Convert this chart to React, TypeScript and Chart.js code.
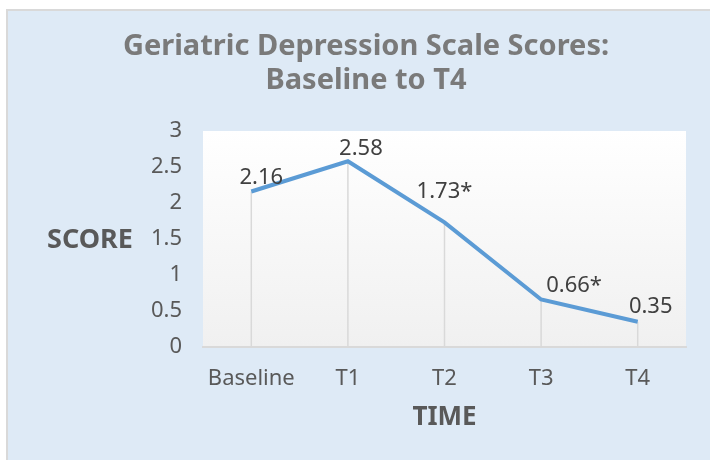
import React, { useEffect, useRef } from "react";
import { Chart, registerables } from "chart.js";

Chart.register(...registerables);

const categories = ["Baseline", "T1", "T2", "T3", "T4"];
const scores = [2.16, 2.58, 1.73, 0.66, 0.35];
const pointLabels = ["2.16", "2.58", "1.73*", "0.66*", "0.35"];
const yTicks = [0, 0.5, 1, 1.5, 2, 2.5, 3];
const titleLines = ["Geriatric Depression Scale Scores:", "Baseline to T4"];
const yTitle = "SCORE";
const xTitle = "TIME";

const FONT = "'Noto Sans', 'DejaVu Sans', sans-serif";
const LINE = "#5b9bd5";
const TEXT = "#595959";
const BG = "#deeaf6";

// label offsets relative to each point (style only)
const labelDx = [10, 13, 0, 33, 13];
const labelDy = [-14, -12, -31, -14, -15];

const decor = {
  id: "decor",
  beforeDraw(chart: any) {
    const { ctx, chartArea: a, width, height } = chart;
    ctx.save();
    ctx.fillStyle = "#ffffff";
    ctx.fillRect(0, 0, width, height);
    ctx.fillStyle = "#d9d9d9";
    ctx.fillRect(6, 9, width - 6, height - 9);
    ctx.fillStyle = BG;
    ctx.fillRect(8, 11, width - 8, height - 11);
    const g = ctx.createLinearGradient(0, a.top, 0, a.bottom);
    g.addColorStop(0, "#ffffff");
    g.addColorStop(1, "#f0f0f0");
    ctx.fillStyle = g;
    ctx.fillRect(a.left, a.top, a.right - a.left, a.bottom - a.top);
    // y-axis title drawn horizontally
    ctx.fillStyle = TEXT;
    ctx.font = `bold 27px ${FONT}`;
    ctx.textAlign = "center";
    ctx.textBaseline = "middle";
    ctx.fillText(yTitle, 90, (a.top + a.bottom) / 2 + 1);
    ctx.restore();
  },
  beforeDatasetsDraw(chart: any) {
    const { ctx, chartArea: a } = chart;
    const meta = chart.getDatasetMeta(0);
    ctx.save();
    ctx.strokeStyle = "#d9d9d9";
    ctx.lineWidth = 1.5;
    meta.data.forEach((p: any) => {
      ctx.beginPath();
      ctx.moveTo(p.x, p.y);
      ctx.lineTo(p.x, a.bottom);
      ctx.stroke();
    });
    ctx.restore();
  },
  afterDatasetsDraw(chart: any) {
    const { ctx } = chart;
    const meta = chart.getDatasetMeta(0);
    ctx.save();
    ctx.fillStyle = "#404040";
    ctx.font = `22px ${FONT}`;
    ctx.textAlign = "center";
    ctx.textBaseline = "middle";
    meta.data.forEach((p: any, i: number) => {
      ctx.fillText(pointLabels[i], p.x + labelDx[i], p.y + labelDy[i]);
    });
    ctx.restore();
  },
};

export default function App() {
  const ref = useRef<HTMLCanvasElement>(null);
  useEffect(() => {
    document.body.style.margin = "0";
    const chart = new Chart(ref.current!, {
      type: "line",
      data: {
        labels: categories,
        datasets: [
          {
            data: scores,
            borderColor: LINE,
            borderWidth: 4,
            pointRadius: 0,
            tension: 0,
            fill: false,
          },
        ],
      },
      options: {
        animation: false,
        responsive: false,
        events: [],
        layout: { padding: { left: 46, right: 24, top: 10, bottom: 10 } },
        plugins: {
          legend: { display: false },
          tooltip: { enabled: false },
          title: {
            display: true,
            text: titleLines,
            color: "#7a7a7a",
            font: { family: FONT, size: 29, weight: "bold", lineHeight: 1.155 },
            padding: { top: 20, bottom: 34 },
          },
        },
        scales: {
          x: {
            offset: true,
            grid: { display: false, drawTicks: false },
            border: { display: true, color: "#d9d9d9", width: 2 },
            ticks: { color: TEXT, font: { family: FONT, size: 22 }, padding: 19, maxRotation: 0 },
            title: {
              display: true,
              text: xTitle,
              color: TEXT,
              font: { family: FONT, size: 26, weight: "bold" },
              padding: { top: 4, bottom: 17 },
            },
            afterFit: (s: any) => {
              s.height = 103;
            },
          },
          y: {
            min: 0,
            max: 3,
            afterBuildTicks: (s: any) => {
              s.ticks = yTicks.map((v) => ({ value: v }));
            },
            grid: { display: false, drawTicks: false },
            border: { display: false },
            ticks: {
              color: TEXT,
              font: { family: FONT, size: 22 },
              padding: 21,
              callback: (v: any) => String(v),
            },
            afterFit: (s: any) => {
              s.width = 157;
            },
          },
        },
      },
      plugins: [decor],
    });
    return () => chart.destroy();
  }, []);
  return (
    <div style={{ position: "absolute", left: 0, top: 0, width: 710, height: 460, overflow: "hidden" }}>
      <canvas ref={ref} width={710} height={460} style={{ width: 710, height: 460, display: "block" }} />
    </div>
  );
}
